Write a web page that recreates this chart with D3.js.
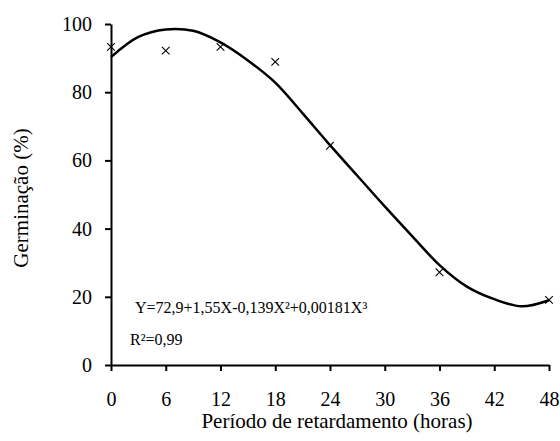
<!DOCTYPE html>
<html>
<head>
<meta charset="utf-8">
<script src="https://cdn.jsdelivr.net/npm/d3@7"></script>
<style>
  html, body { margin: 0; padding: 0; background: #fff; }
  svg { display: block; }
  text { font-family: "Liberation Serif", "Times New Roman", Times, serif; fill: #000; }
</style>
</head>
<body>
<svg id="chart" width="560" height="441"></svg>
<script>
// Observed germination (%) by delay period (hours)
const hours = [0, 6, 12, 18, 24, 36, 48];
const germination = [93.3, 92.2, 93.3, 88.9, 64.3, 27.2, 19.1];

// Fitted regression curve
const fitHours = [0, 3, 6, 9, 12, 15, 18, 21, 24, 27, 30, 33, 36, 39, 42, 45, 48];
const fitValues = [90.3, 96.2, 98.4, 98.0, 94.6, 89.3, 82.8, 73.8, 64.5, 55.5, 46.5, 37.8, 29.3, 23.0, 19.3, 17.2, 19.0];

const xTicks = [0, 6, 12, 18, 24, 30, 36, 42, 48];
const yTicks = [0, 20, 40, 60, 80, 100];

const xTitle = "Período de retardamento (horas)";
const yTitle = "Germinação (%)";
const equation = "Y=72,9+1,55X-0,139X²+0,00181X³";
const r2 = "R²=0,99";

const FONT = '"Liberation Serif", "Times New Roman", Times, serif';
const svg = d3.select("#chart");
const margin = { left: 111, right: 11, top: 24, bottom: 76 };
const W = 560, H = 441;

const x = d3.scaleLinear().domain([0, 48]).range([margin.left, W - margin.right]);
const y = d3.scaleLinear().domain([0, 100]).range([H - margin.bottom, margin.top]);

// Axes
const xAxis = d3.axisBottom(x).tickValues(xTicks).tickSize(6).tickSizeOuter(0).tickPadding(21);
const yAxis = d3.axisLeft(y).tickValues(yTicks).tickSize(6).tickSizeOuter(0).tickPadding(13);

const gx = svg.append("g").attr("transform", `translate(0,${y(0)})`).call(xAxis);
const gy = svg.append("g").attr("transform", `translate(${x(0)},0)`).call(yAxis);

[gx, gy].forEach(g => {
  g.attr("font-family", FONT);
  g.select(".domain").attr("stroke", "#000").attr("stroke-width", 2);
  g.selectAll(".tick line").attr("stroke", "#000").attr("stroke-width", 2);
  g.selectAll(".tick text")
    .style("font-family", FONT)
    .style("font-size", "20px").attr("fill", "#000");
});
gx.selectAll(".tick text").attr("dy", "0.71em");

// Fitted curve
const line = d3.line()
  .x((d, i) => x(fitHours[i]))
  .y(d => y(d))
  .curve(d3.curveCatmullRom.alpha(0.5));

svg.append("path")
  .datum(fitValues)
  .attr("d", line)
  .attr("fill", "none")
  .attr("stroke", "#000")
  .attr("stroke-width", 2.5)
  .attr("stroke-linejoin", "round");

// Observed points (× markers)
const sym = d3.symbol().type(d3.symbolTimes).size(40);
svg.append("g").selectAll("path")
  .data(germination)
  .join("path")
  .attr("transform", (d, i) => `translate(${x(hours[i])},${y(d)})`)
  .attr("d", sym)
  .attr("fill", "none")
  .attr("stroke", "#000")
  .attr("stroke-width", 1.1);

// Equation text
svg.append("text")
  .attr("x", 135).attr("y", 313)
  .style("font-family", FONT)
  .style("font-size", "16px")
  .text(equation);
svg.append("text")
  .attr("x", 130).attr("y", 345)
  .style("font-family", FONT)
  .style("font-size", "16px")
  .text(r2);

// Axis titles
svg.append("text")
  .attr("x", 337).attr("y", 428)
  .attr("text-anchor", "middle")
  .style("font-family", FONT)
  .style("font-size", "21px")
  .text(xTitle);

svg.append("text")
  .attr("transform", `translate(28,${198}) rotate(-90)`)
  .attr("text-anchor", "middle")
  .style("font-family", FONT)
  .style("font-size", "21px")
  .text(yTitle);
</script>
</body>
</html>
